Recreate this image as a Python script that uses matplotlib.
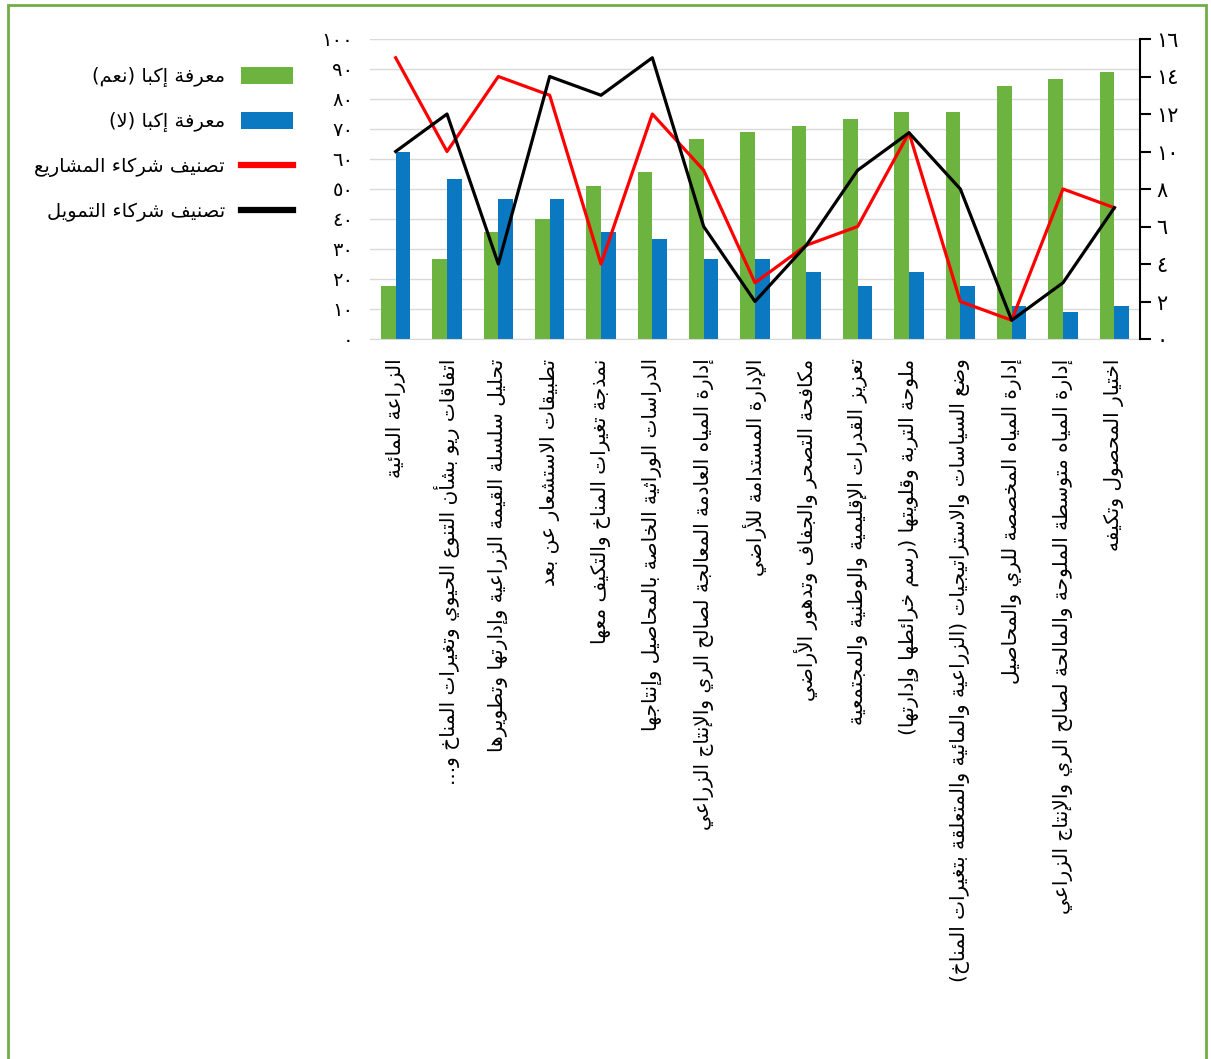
import matplotlib
matplotlib.use("Agg")
import matplotlib.pyplot as plt
from matplotlib.patches import Rectangle
import numpy as np

plt.rcParams["font.family"] = ["DejaVu Sans"]

# المحاور: المواضيع
categories = [
    "الزراعة المائية",
    "اتفاقات ريو بشأن التنوع الحيوي وتغيرات المناخ و...",
    "تحليل سلسلة القيمة الزراعية وإدارتها وتطويرها",
    "تطبيقات الاستشعار عن بعد",
    "نمذجة تغيرات المناخ والتكيف معها",
    "الدراسات الوراثية الخاصة بالمحاصيل وإنتاجها",
    "إدارة المياه العادمة المعالجة لصالح الري والإنتاج الزراعي",
    "الإدارة المستدامة للأراضي",
    "مكافحة التصحر والجفاف وتدهور الأراضي",
    "تعزيز القدرات الإقليمية والوطنية والمجتمعية",
    "ملوحة التربة وقلويتها (رسم خرائطها وإدارتها)",
    "وضع السياسات والاستراتيجيات (الزراعية والمائية والمتعلقة بتغيرات المناخ)",
    "إدارة المياه المخصصة للري والمحاصيل",
    "إدارة المياه متوسطة الملوحة والمالحة لصالح الري والإنتاج الزراعي",
    "اختيار المحصول وتكيفه",
]

# نسب المعرفة (%)
know_yes = [17.8, 26.7, 35.6, 40.0, 51.1, 55.6, 66.7, 68.9, 71.1, 73.3, 75.6, 75.6, 84.4, 86.7, 88.9]
know_no = [62.2, 53.3, 46.7, 46.7, 35.6, 33.3, 26.7, 26.7, 22.2, 17.8, 22.2, 17.8, 11.1, 8.9, 11.1]

# الترتيب (المحور الأيمن)
rank_projects = [15, 10, 14, 13, 4, 12, 9, 3, 5, 6, 11, 2, 1, 8, 7]
rank_funding = [10, 12, 4, 14, 13, 15, 6, 2, 5, 9, 11, 8, 1, 3, 7]

series_names = [
    "معرفة إكبا (نعم)",
    "معرفة إكبا (لا)",
    "تصنيف شركاء المشاريع",
    "تصنيف شركاء التمويل",
]

left_ticks = list(range(0, 101, 10))
right_ticks = list(range(0, 17, 2))


# تشكيل الحروف العربية يدويا (matplotlib لا يدعم التشكيل ولا الاتجاه من اليمين لليسار)
FORMS = {}
for ch, start, n in [
    ("ء", 0xFE80, 1), ("آ", 0xFE81, 2), ("أ", 0xFE83, 2), ("ؤ", 0xFE85, 2),
    ("إ", 0xFE87, 2), ("ئ", 0xFE89, 4), ("ا", 0xFE8D, 2), ("ب", 0xFE8F, 4),
    ("ة", 0xFE93, 2), ("ت", 0xFE95, 4), ("ث", 0xFE99, 4), ("ج", 0xFE9D, 4),
    ("ح", 0xFEA1, 4), ("خ", 0xFEA5, 4), ("د", 0xFEA9, 2), ("ذ", 0xFEAB, 2),
    ("ر", 0xFEAD, 2), ("ز", 0xFEAF, 2), ("س", 0xFEB1, 4), ("ش", 0xFEB5, 4),
    ("ص", 0xFEB9, 4), ("ض", 0xFEBD, 4), ("ط", 0xFEC1, 4), ("ظ", 0xFEC5, 4),
    ("ع", 0xFEC9, 4), ("غ", 0xFECD, 4), ("ف", 0xFED1, 4), ("ق", 0xFED5, 4),
    ("ك", 0xFED9, 4), ("ل", 0xFEDD, 4), ("م", 0xFEE1, 4), ("ن", 0xFEE5, 4),
    ("ه", 0xFEE9, 4), ("و", 0xFEED, 2), ("ى", 0xFEEF, 2), ("ي", 0xFEF1, 4),
]:
    FORMS[ch] = [chr(start + k) for k in range(n)]

LAM_ALEF = {"آ": 0xFEF5, "أ": 0xFEF7, "إ": 0xFEF9, "ا": 0xFEFB}
MIRROR = {"(": ")", ")": "("}


def ar(text):
    out = []
    i = 0
    while i < len(text):
        c = text[i]
        prev = text[i - 1] if i > 0 else ""
        joins_prev = prev in FORMS and len(FORMS[prev]) == 4
        if c == "ل" and i + 1 < len(text) and text[i + 1] in LAM_ALEF:
            out.append(chr(LAM_ALEF[text[i + 1]] + int(joins_prev)))
            i += 2
            continue
        if c not in FORMS:
            out.append(c)
            i += 1
            continue
        f = FORMS[c]
        nxt = text[i + 1] if i + 1 < len(text) else ""
        joins_next = len(f) == 4 and nxt in FORMS
        joins_prev = joins_prev and len(f) > 1
        if joins_prev and joins_next:
            out.append(f[3])
        elif joins_next:
            out.append(f[2])
        elif joins_prev:
            out.append(f[1])
        else:
            out.append(f[0])
        i += 1
    return "".join(MIRROR.get(c, c) for c in reversed(out))


def ar_num(n):
    return str(n).translate(str.maketrans("0123456789", "٠١٢٣٤٥٦٧٨٩"))


fig = plt.figure(figsize=(12.11, 10.59), dpi=100)
ax = fig.add_axes([370 / 1211, 1 - 339 / 1059, 770 / 1211, 300 / 1059])
ax2 = ax.twinx()

x = np.arange(len(categories))
w = 0.285

b1 = ax.bar(x - w / 2, know_yes, w, color="#6DB33F", label=ar(series_names[0]), zorder=2)
b2 = ax.bar(x + w / 2, know_no, w, color="#0A79C2", label=ar(series_names[1]), zorder=2)

l1, = ax2.plot(x, rank_projects, color="#FF0000", lw=2.3, label=ar(series_names[2]))
l2, = ax2.plot(x, rank_funding, color="#000000", lw=2.3, label=ar(series_names[3]))

ax.set_xlim(-0.5, len(categories) - 0.5)
ax.set_ylim(0, 100)
ax2.set_ylim(0, 16)

ax.set_yticks(left_ticks, [ar_num(t) for t in left_ticks], fontsize=14)
ax.tick_params(axis="y", length=0, pad=12)
ax.grid(axis="y", color="#D9D9D9", lw=1, zorder=0)
ax.set_axisbelow(True)

ax.set_xticks(x, [ar(c) for c in categories], rotation=90, fontsize=14.5)
ax.tick_params(axis="x", length=0, pad=14)

for s in ["top", "left", "right"]:
    ax.spines[s].set_visible(False)
ax.spines["bottom"].set_color("#D9D9D9")

for s in ["top", "left", "bottom"]:
    ax2.spines[s].set_visible(False)
ax2.spines["right"].set_color("black")
ax2.spines["right"].set_linewidth(1.5)
ax2.set_yticks(right_ticks, [ar_num(t) for t in right_ticks], fontsize=15)
ax2.tick_params(axis="y", direction="out", length=8, width=1.5, pad=4)

leg = fig.legend(
    handles=[b1, b2, l1, l2],
    loc="upper right",
    bbox_to_anchor=(293 / 1211, 1 - 67 / 1059),
    frameon=False,
    markerfirst=False,
    fontsize=14,
    handlelength=2.7,
    handleheight=0.95,
    handletextpad=0.8,
    labelspacing=1.28,
    borderpad=0,
    borderaxespad=0,
)
for ln in leg.get_lines():
    ln.set_linewidth(4.5)

# إطار أخضر حول الرسم
fig.patches.append(Rectangle((8 / 1211, -0.05), 1198 / 1211, 1.05 - 5 / 1059,
                             transform=fig.transFigure, fill=False,
                             edgecolor="#70AD47", lw=2))

fig.savefig("out.png", dpi=100)
